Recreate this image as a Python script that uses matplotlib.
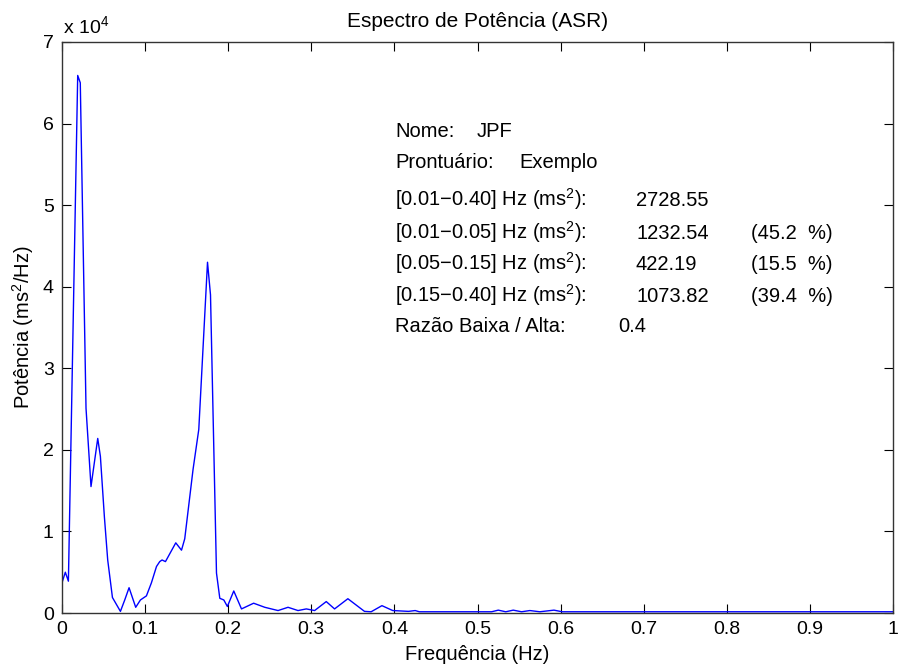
import matplotlib.pyplot as plt
from matplotlib.ticker import FuncFormatter

plt.rcParams['font.family'] = ['Liberation Sans', 'DejaVu Sans']
plt.rcParams['mathtext.fontset'] = 'custom'
plt.rcParams['mathtext.rm'] = 'Liberation Sans'
plt.rcParams['mathtext.it'] = 'Liberation Sans:italic'

# spectrum vertices (Hz, ms^2/Hz)
freq = [0.000, 0.004, 0.0077, 0.0189, 0.022, 0.0289, 0.0349, 0.043, 0.0462,
        0.051, 0.055, 0.0607, 0.0703, 0.0755, 0.0807, 0.0887, 0.0944, 0.1016,
        0.1076, 0.1137, 0.1176, 0.1204, 0.1245, 0.1369, 0.1438, 0.1477,
        0.1577, 0.1646, 0.1751, 0.1787, 0.1859, 0.1899, 0.1947, 0.199,
        0.2067, 0.216, 0.2306, 0.244, 0.26, 0.272, 0.284, 0.294, 0.304,
        0.318, 0.328, 0.344, 0.364, 0.372, 0.385, 0.398, 0.417, 0.425, 0.43,
        0.5, 0.517, 0.525, 0.534, 0.543, 0.553, 0.563, 0.575, 0.592, 0.602,
        0.65, 0.8, 1.0]
power = [3700, 5000, 3900, 65900, 65000, 25100, 15500, 21400, 19200,
         11800, 6500, 1900, 200, 1600, 3100, 700, 1600, 2100,
         3700, 5700, 6300, 6500, 6300, 8600, 7700, 9100,
         17600, 22500, 43000, 39000, 4900, 1800, 1600, 800,
         2700, 500, 1200, 700, 300, 700, 300, 500, 300,
         1400, 500, 1750, 200, 150, 900, 300, 200, 300, 150,
         150, 150, 350, 150, 350, 150, 300, 150, 350, 150,
         150, 150, 150]

info_labels = ['Nome:', 'Prontuário:', '[0.01−0.40] Hz (ms$^2$):',
               '[0.01−0.05] Hz (ms$^2$):', '[0.05−0.15] Hz (ms$^2$):',
               '[0.15−0.40] Hz (ms$^2$):', 'Razão Baixa / Alta:']
info_values = ['JPF', 'Exemplo', '2728.55', '1232.54', '422.19', '1073.82', '0.4']
info_pct = ['', '', '', '(45.2  %)', '(15.5  %)', '(39.4  %)', '']

W, H = 900, 666
fig = plt.figure(figsize=(9, 6.66), dpi=100)
ax = fig.add_axes((62 / W, 1 - 613 / H, (893 - 62) / W, (613 - 42) / H))

ax.plot(freq, power, color='#0000ff', lw=1.0)

ax.set_xlim(0, 1)
ax.set_ylim(0, 70000)
ax.set_xticks([i / 10 for i in range(11)])
ax.set_xticklabels(['0', '0.1', '0.2', '0.3', '0.4', '0.5', '0.6', '0.7', '0.8', '0.9', '1'])
ax.set_yticks([i * 10000 for i in range(8)])
ax.yaxis.set_major_formatter(FuncFormatter(lambda v, p: '%d' % round(v / 1e4)))
ax.tick_params(direction='in', length=6.5, width=0.8, top=True, right=True,
               labelsize=14, pad=6)
for s in ax.spines.values():
    s.set_linewidth(1.0)
    s.set_color('#333333')

ax.set_title('Espectro de Potência (ASR)', fontsize=15, pad=11)
ax.set_xlabel('Frequência (Hz)', fontsize=14.5, labelpad=5)
ax.set_ylabel('Potência (ms$^2$/Hz)', fontsize=14.5, labelpad=5)
fig.text(63 / W, 1 - 33 / H, 'x 10$^4$', fontsize=14, va='baseline')


def px(x, y):
    return x / W, 1 - y / H


rows_y = [137, 168, 206, 239, 270, 302, 332]
for yy, lab, val, pct in zip(rows_y, info_labels, info_values, info_pct):
    fig.text(*px(395, yy), lab, fontsize=14.5, va='baseline')
    if lab.startswith('Nome'):
        vx = 477
    elif lab.startswith('Pront'):
        vx = 519
    elif lab.startswith('Raz'):
        vx = 618
    else:
        vx = 636
    fig.text(*px(vx, yy), val, fontsize=14.5, va='baseline')
    if pct:
        fig.text(*px(751, yy), pct, fontsize=14.5, va='baseline')

plt.savefig('out.png', dpi=100)
